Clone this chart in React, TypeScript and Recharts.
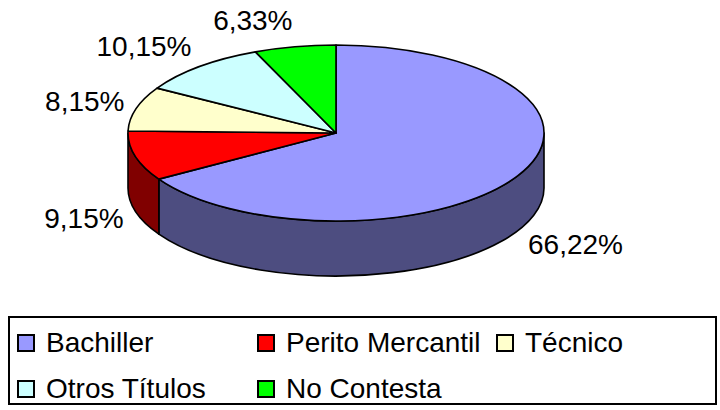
import React from 'react';
import { PieChart, Pie, Legend } from 'recharts';

const categories = ['Bachiller', 'Perito Mercantil', 'Técnico', 'Otros Títulos', 'No Contesta'];
const percentages = [66.22, 9.15, 8.15, 10.15, 6.33];
const topColors = ['#9999FF', '#FF0000', '#FFFFCC', '#CCFFFF', '#00FF00'];
const sideColors = ['#4D4D80', '#800000', '#808066', '#668080', '#008000'];

const data = categories.map((name, i) => ({ name, value: percentages[i] }));

const TILT = 0.423;
const DEPTH = 55;
const RAD = Math.PI / 180;
const FONT = '"Liberation Sans", Arial, sans-serif';

const fmt = (v: number) => v.toFixed(2).replace('.', ',') + '%';

function pt(cx: number, cy: number, rx: number, ry: number, a: number): [number, number] {
  return [cx + rx * Math.cos(a * RAD), cy - ry * Math.sin(a * RAD)];
}

function renderSlice(props: any) {
  const { cx, cy, outerRadius, startAngle, endAngle, midAngle, index, value } = props;
  const rx = outerRadius;
  const ry = outerRadius * TILT;
  const [sx, sy] = pt(cx, cy, rx, ry, startAngle);
  const [ex, ey] = pt(cx, cy, rx, ry, endAngle);
  const span = Math.abs(startAngle - endAngle);
  const large = span > 180 ? 1 : 0;
  const top = `M${cx},${cy} L${sx},${sy} A${rx},${ry} 0 ${large} 1 ${ex},${ey} Z`;
  const hi = Math.min(startAngle, 0);
  const lo = Math.max(endAngle, -180);
  let side: string | null = null;
  if (hi > lo) {
    const [ax, ay] = pt(cx, cy, rx, ry, hi);
    const [bx, by] = pt(cx, cy, rx, ry, lo);
    const lg = hi - lo > 180 ? 1 : 0;
    side = `M${ax},${ay} A${rx},${ry} 0 ${lg} 1 ${bx},${by} L${bx},${by + DEPTH} A${rx},${ry} 0 ${lg} 0 ${ax},${ay + DEPTH} Z`;
  }
  const c = Math.cos(midAngle * RAD);
  const s = Math.sin(midAngle * RAD);
  let [px, py] = pt(cx, cy, rx, ry, midAngle);
  if (s < 0) py += DEPTH;
  const tx = px + c * 12;
  const ty = py - s * 27 + 10;
  return (
    <g key={`slice-${index}`}>
      {side && <path d={side} fill={sideColors[index]} stroke="#000" strokeWidth={1.6} strokeLinejoin="round" />}
      <path d={top} fill={topColors[index]} stroke="#000" strokeWidth={1.6} strokeLinejoin="round" />
      <text x={tx} y={ty} textAnchor={c >= 0 ? 'start' : 'end'} fontFamily={FONT} fontSize={28} fill="#000">
        {fmt(value)}
      </text>
    </g>
  );
}

function LegendBox(props: any) {
  const seen = new Set<string>();
  const items = (props.payload || [])
    .filter((p: any) => {
      if (seen.has(p.value)) return false;
      seen.add(p.value);
      return true;
    })
    .sort((a: any, b: any) => categories.indexOf(a.value) - categories.indexOf(b.value));
  return (
    <div
      style={{
        boxSizing: 'border-box',
        width: 709,
        height: 89,
        border: '2px solid #000',
        paddingLeft: 7,
        paddingTop: 2,
        display: 'grid',
        gridTemplateColumns: '240px 239px auto',
        fontFamily: FONT,
        fontSize: 28,
        color: '#000',
        background: '#fff',
      }}
    >
      {items.map((p: any, i: number) => {
        const idx = categories.indexOf(p.value);
        return (
          <div key={p.value} style={{ display: 'flex', alignItems: 'center', height: 46, lineHeight: '46px', whiteSpace: 'nowrap' }}>
            <span
              style={{
                display: 'inline-block',
                boxSizing: 'border-box',
                width: 18,
                height: 18,
                border: '2px solid #000',
                background: topColors[idx >= 0 ? idx : i],
                marginRight: 11,
              }}
            />
            <span>{p.value}</span>
          </div>
        );
      })}
    </div>
  );
}

export default function App() {
  return (
    <div style={{ position: 'absolute', left: 0, top: 0, width: 720, height: 410, background: '#fff' }}>
      <PieChart width={720} height={410} margin={{ top: 0, right: 0, bottom: 0, left: 0 }}>
        <Pie
          data={data}
          dataKey="value"
          nameKey="name"
          cx={336}
          cy={133}
          outerRadius={208}
          startAngle={90}
          endAngle={-270}
          fill="none"
          stroke="none"
          label={renderSlice}
          labelLine={false}
          isAnimationActive={false}
        />
        <Legend
          content={<LegendBox />}
          itemSorter={null as any}
          wrapperStyle={{ left: 8, top: 316, bottom: 'auto', width: 709, height: 89 }}
        />
      </PieChart>
    </div>
  );
}
